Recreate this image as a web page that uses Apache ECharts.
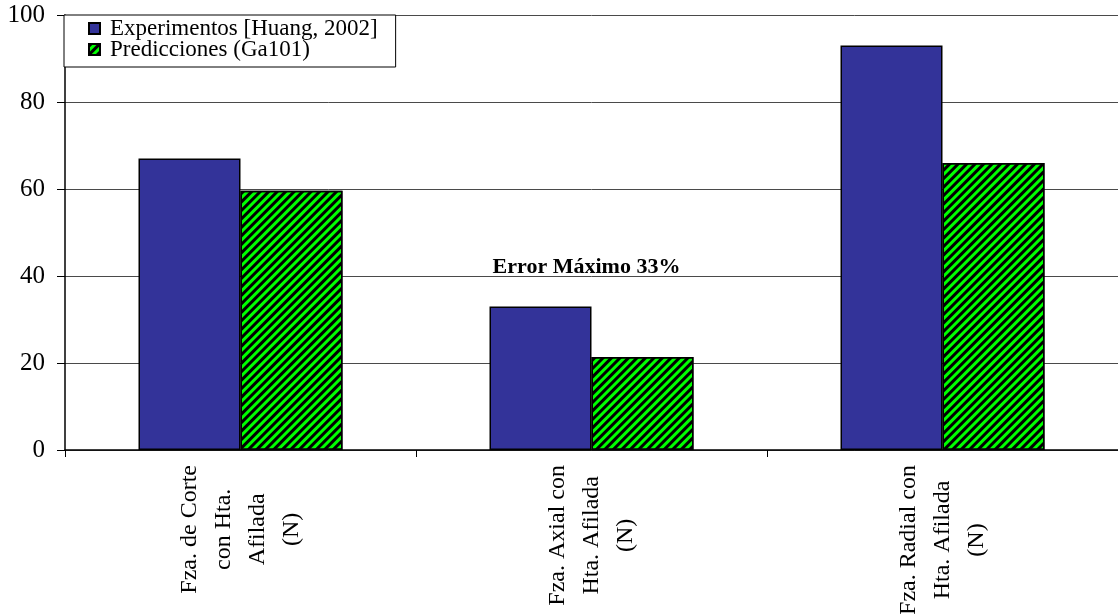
<!DOCTYPE html>
<html>
<head>
<meta charset="utf-8">
<script src="https://cdn.jsdelivr.net/npm/echarts@6/dist/echarts.min.js"></script>
<style>
  html, body { margin: 0; padding: 0; background: #fff; }
  #chart { width: 1118px; height: 614px; }
</style>
</head>
<body>
<div id="chart"></div>
<script>
// Cutting force components with a sharp tool: measured vs predicted (N)
const categories = [
  'Fza. de Corte\ncon Hta.\nAfilada\n(N)',
  'Fza. Axial con\nHta. Afilada\n(N)',
  'Fza. Radial con\nHta. Afilada\n(N)'
];
const seriesNames = ['Experimentos [Huang, 2002]', 'Predicciones (Ga101)'];
const experimentos = [67, 33, 93];
const predicciones = [59.6, 21.4, 66];
const yTicks = [0, 20, 40, 60, 80, 100];
const noteText = 'Error Máximo 33%';
const notePoint = [1, 42];

const serif = '"Liberation Serif", "Times New Roman", serif';

const chart = echarts.init(document.getElementById('chart'), null, { renderer: 'canvas' });

// diagonal black stripes over green
const hatch = {
  symbol: 'rect',
  symbolSize: 1,
  color: '#000000',
  dashArrayX: [1, 0],
  dashArrayY: [3, 3],
  rotation: -Math.PI / 4
};

chart.setOption({
  animation: false,
  backgroundColor: '#ffffff',
  grid: { left: 65, right: 0, top: 15, bottom: 164, containLabel: false, outerBoundsMode: 'none' },
  legend: {
    orient: 'vertical',
    left: 64,
    top: 15,
    padding: [2, 18, 6, 24],
    itemGap: -2,
    itemWidth: 11,
    itemHeight: 11,
    borderColor: '#000',
    borderWidth: 1,
    borderRadius: 0,
    backgroundColor: '#fff',
    icon: 'rect',
    textStyle: { fontFamily: serif, fontSize: 23, color: '#000', padding: [0, 0, 0, 5] },
    data: seriesNames
  },
  xAxis: {
    type: 'category',
    data: categories,
    boundaryGap: true,
    axisLine: { show: true, lineStyle: { color: '#000', width: 1.5 } },
    axisTick: { show: true, interval: 0, alignWithLabel: false, length: 7, lineStyle: { color: '#000' } },
    axisLabel: {
      interval: 0,
      rotate: 90,
      margin: 15,
      color: '#000',
      hideOverlap: false,
      formatter: function (v) {
        return v.split('\n').map(function (s) { return '{c|' + s + '}'; }).join('\n');
      },
      rich: {
        c: { fontFamily: serif, fontSize: 24, lineHeight: 34, align: 'center', color: '#000' }
      }
    },
    splitLine: { show: false }
  },
  yAxis: {
    type: 'value',
    min: yTicks[0],
    max: yTicks[yTicks.length - 1],
    interval: yTicks[1] - yTicks[0],
    axisLine: { show: true, lineStyle: { color: '#000', width: 1.5 } },
    axisTick: { show: true, length: 8, lineStyle: { color: '#000' } },
    axisLabel: { fontFamily: serif, fontSize: 25, color: '#000', margin: 20 },
    splitLine: { show: true, lineStyle: { color: '#4a4a4a', width: 1 } }
  },
  series: [
    {
      name: seriesNames[0],
      type: 'bar',
      data: experimentos,
      barWidth: 102,
      barGap: '0%',
      itemStyle: { color: '#333399', borderColor: '#000', borderWidth: 1.5 }
    },
    {
      name: seriesNames[1],
      type: 'bar',
      data: predicciones,
      barWidth: 102,
      barGap: '0%',
      itemStyle: { color: '#00ff00', borderColor: '#000', borderWidth: 1.5, decal: hatch }
    }
  ]
});

// note above the axial-force group, placed through the chart's own scales
const notePx = chart.convertToPixel({ xAxisIndex: 0, yAxisIndex: 0 }, notePoint);
chart.setOption({
  graphic: [{
    type: 'text',
    x: notePx[0] - 5,
    y: notePx[1],
    style: {
      text: noteText,
      fontFamily: serif,
      fontWeight: 'bold',
      fontSize: 22,
      fill: '#000',
      align: 'center',
      verticalAlign: 'middle'
    }
  }]
});
</script>
</body>
</html>
